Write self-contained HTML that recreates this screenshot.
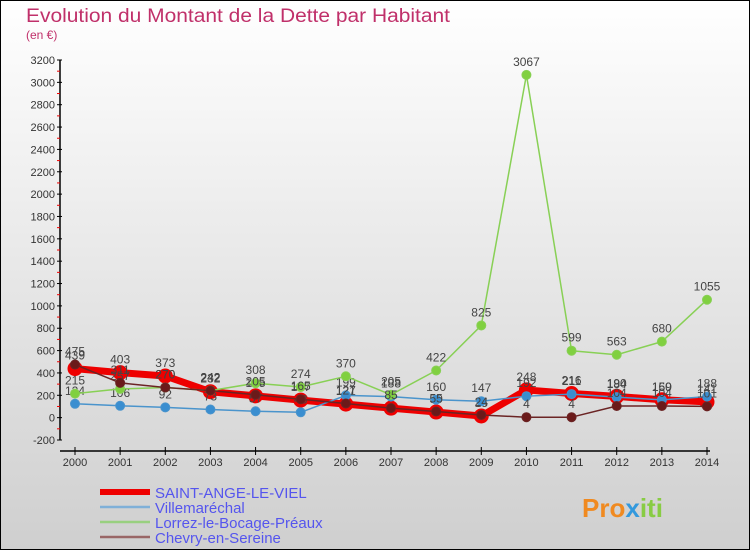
<!DOCTYPE html>
<html><head><meta charset="utf-8">
<style>
html,body{margin:0;padding:0;}
body{width:750px;height:550px;overflow:hidden;font-family:"Liberation Sans",sans-serif;}
svg text{font-family:"Liberation Sans",sans-serif;}
</style></head>
<body>
<svg id="chart" width="750" height="550" xmlns="http://www.w3.org/2000/svg">
<defs>
<linearGradient id="bg" x1="0" y1="0" x2="0" y2="1">
<stop offset="0" stop-color="#ffffff"/><stop offset="1" stop-color="#cfcfcf"/>
</linearGradient>
</defs>
<rect x="0.5" y="0.5" width="749" height="549" fill="url(#bg)" stroke="#000" stroke-width="1"/>
<text x="26" y="22" font-size="19" fill="#c0306a" textLength="424" lengthAdjust="spacingAndGlyphs">Evolution du Montant de la Dette par Habitant</text>
<text x="26" y="39" font-size="12" fill="#c0306a">(en €)</text>
<g id="axes"></g>
<g id="series"></g>
<g id="legend"></g>
<text x="582" y="517" font-size="26" font-weight="bold" fill="#f08a20">Pro<tspan fill="#3399dd">x</tspan><tspan fill="#88cc44">iti</tspan></text>
</svg>
<script>
const years = [2000,2001,2002,2003,2004,2005,2006,2007,2008,2009,2010,2011,2012,2013,2014];
const yTicks = [-200,0,200,400,600,800,1000,1200,1400,1600,1800,2000,2200,2400,2600,2800,3000,3200];
const saintAnge = [439,403,373,232,195,157,121,85,50,15,248,216,190,160,141];
const villemarechal = [124,106,92,73,57,48,199,188,160,147,192,211,184,159,188];
const lorrez = [215,257,270,242,308,274,370,205,422,825,3067,599,563,680,1055];
const chevry = [475,311,270,242,205,165,127,85,55,24,4,4,104,104,101];
const seriesNames = ["SAINT-ANGE-LE-VIEL","Villemaréchal","Lorrez-le-Bocage-Préaux","Chevry-en-Sereine"];

const NS="http://www.w3.org/2000/svg";
const x0=75,x1=707,yTop=60,yBot=440,vTop=3200,vBot=-200;
function xs(i){return x0+(x1-x0)*i/(years.length-1);}
function ys(v){return yBot-(v-vBot)*(yBot-yTop)/(vTop-vBot);}
function mk(tag,attrs,parent){const e=document.createElementNS(NS,tag);for(const k in attrs)e.setAttribute(k,attrs[k]);parent.appendChild(e);return e;}

const axes=document.getElementById('axes');
let yl=mk('line',{x1:60,y1:yTop,x2:60,y2:yBot,stroke:'#000','stroke-width':1.5},axes);


let xl=mk('line',{x1:60,y1:451,x2:x1+3,y2:451,stroke:'#000','stroke-width':1.5},axes);


yTicks.forEach((v,i)=>{
  const y=ys(v);
  mk('line',{x1:57,y1:y,x2:62,y2:y,stroke:'#000'},axes);
  if(i<yTicks.length-1){mk('line',{x1:57,y1:(y+ys(yTicks[i+1]))/2,x2:60,y2:(y+ys(yTicks[i+1]))/2,stroke:'#e00'},axes);}
  const t=mk('text',{x:55,y:y+4,'font-size':11,'text-anchor':'end',fill:'#333'},axes);
  t.textContent=v;
  
  
});
years.forEach((yr,i)=>{
  const x=xs(i);
  mk('line',{x1:x,y1:447,x2:x,y2:455,stroke:'#000'},axes);
  const t=mk('text',{x:x,y:466,'font-size':11,'text-anchor':'middle',fill:'#333'},axes);
  t.textContent=yr;
  
  
});

const ser=document.getElementById('series');
function draw(vals,color,width,r,dot,name){
  const g=mk('g',{},ser);
  
  
  const pts=vals.map((v,i)=>xs(i)+','+ys(v)).join(' ');
  mk('polyline',{points:pts,fill:'none',stroke:color,'stroke-width':width,'stroke-linejoin':'round'},g);
  vals.forEach((v,i)=>{
    const c=mk('circle',{cx:xs(i),cy:ys(v),r:r,fill:dot,stroke:color,'stroke-width':1},g);
    
    
    const t=mk('text',{x:xs(i),y:ys(v)-9,'font-size':12,'text-anchor':'middle',fill:'#444'},g);
    t.textContent=v;
    
    
  });
}
draw(saintAnge,'#ee0000',7,7,'#ee0000','series-saint-ange');
draw(villemarechal,'#4a94cc',1.5,4.5,'#3a8ed0','series-villemarechal');
draw(lorrez,'#88d055',1.5,4.5,'#80d040','series-lorrez');
draw(chevry,'#6b2424',1.5,4.5,'#6b1a1a','series-chevry');

const leg=document.getElementById('legend');
const legColors=['#ee0000','#7fb0d8','#99d080','#996666'];
const legW=[6,2.5,2.5,2.5];
seriesNames.forEach((n,i)=>{
  const y=492+i*15;
  const g=mk('g',{},leg);
  
  
  mk('line',{x1:100,y1:y,x2:150,y2:y,stroke:legColors[i],'stroke-width':legW[i]},g);
  const t=mk('text',{x:155,y:y+6,'font-size':15,fill:'#5555ee'},g);
  t.textContent=n;
});
</script>
</body></html>
